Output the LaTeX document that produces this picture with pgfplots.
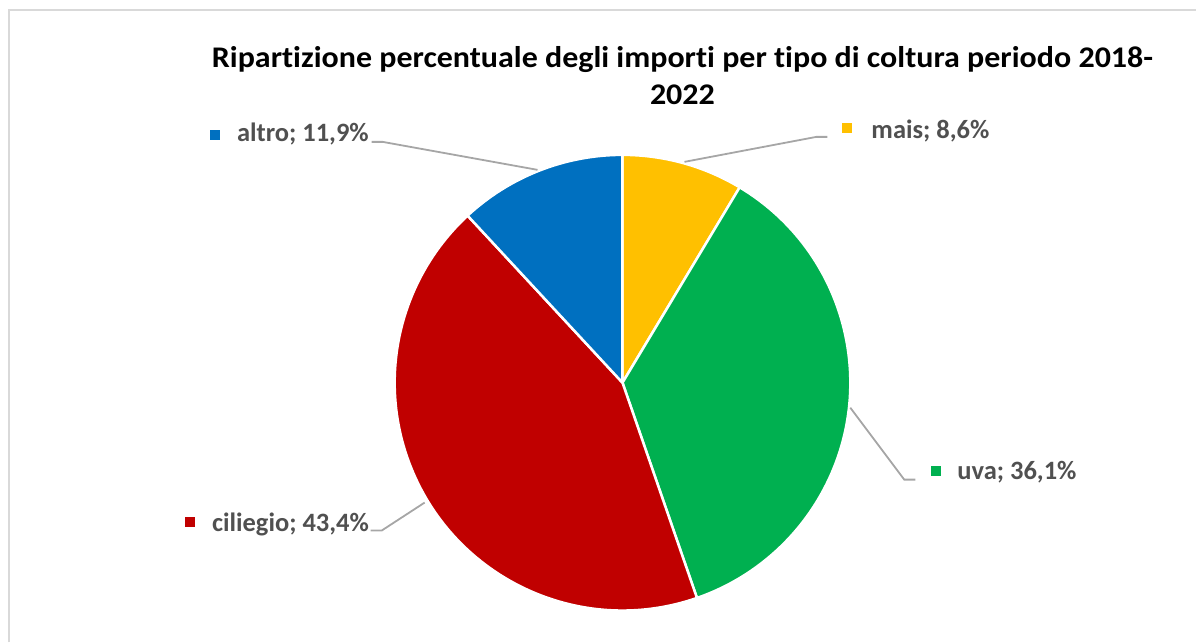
\documentclass[border=0pt]{standalone}
\usepackage{pgfplots}
\pgfplotsset{compat=1.18}
\usepackage{fontspec}
\setmainfont{Carlito}[Ligatures={NoCommon}]

\definecolor{maisc}{HTML}{FFC000}
\definecolor{uvac}{HTML}{00B050}
\definecolor{cilc}{HTML}{C00000}
\definecolor{altroc}{HTML}{0070C0}
\definecolor{labgray}{HTML}{505050}
\definecolor{leadgray}{HTML}{A6A6A6}
\definecolor{framegray}{HTML}{D9D9D9}

\begin{document}
\begin{tikzpicture}
\begin{axis}[
  scale only axis,
  width=1197pt, height=643pt,
  xmin=0, xmax=1197, ymin=0, ymax=643,
  y dir=reverse,
  hide axis, clip=false,
]
\path (rel axis cs:0,0) rectangle (rel axis cs:1,1);
% chart frame
\draw[framegray, line width=2pt] (axis cs:9,643) -- (axis cs:9,10) -- (axis cs:1197,10);

% slices, clockwise from 12 o'clock
\gdef\ang{90}
\foreach \v/\c in {8.6/maisc, 36.1/uvac, 43.4/cilc, 11.9/altroc}{
  \pgfmathsetmacro{\a}{\ang-3.6*\v}
  \edef\temp{\noexpand\fill[\c, draw=white, line width=2.5pt, line join=round]
    (axis cs:623,383) -- ++(\ang:228pt) arc[start angle=\ang, end angle=\a, radius=228pt] -- cycle;}
  \temp
  \xdef\ang{\a}
}

% leader lines
\draw[leadgray, line width=1.8pt] (axis cs:538,170) -- (axis cs:383,142) -- (axis cs:372,142);
\draw[leadgray, line width=1.8pt] (axis cs:685,162) -- (axis cs:817,137) -- (axis cs:828,137);
\draw[leadgray, line width=1.8pt] (axis cs:851,408) -- (axis cs:905,480) -- (axis cs:916,480);
\draw[leadgray, line width=1.8pt] (axis cs:425,503) -- (axis cs:382,531) -- (axis cs:371,531);

% labels
\tikzset{lab/.style={anchor=base west, inner sep=0pt, text=labgray,
  font=\fontsize{26.5}{30}\selectfont\bfseries}}
\fill[altroc] (axis cs:210,130) rectangle (axis cs:220,140);
\node[lab] at (axis cs:237,142) {altro; 11,9\%};
\fill[maisc] (axis cs:843,123) rectangle (axis cs:853,133);
\node[lab] at (axis cs:872,139) {mais; 8,6\%};
\fill[uvac] (axis cs:932,466) rectangle (axis cs:942,476);
\node[lab] at (axis cs:958,480) {uva; 36,1\%};
\fill[cilc] (axis cs:185,517) rectangle (axis cs:195,527);
\node[lab] at (axis cs:212,532) {ciliegio; 43,4\%};

% title
\tikzset{tit/.style={anchor=base, inner sep=0pt, text=black, xscale=1.067,
  font=\fontsize{30}{36}\selectfont\bfseries}}
\node[tit] at (axis cs:683,68) {Ripartizione percentuale degli importi per tipo di coltura periodo 2018-};
\node[tit] at (axis cs:683,105) {2022};
\end{axis}
\end{tikzpicture}
\end{document}
